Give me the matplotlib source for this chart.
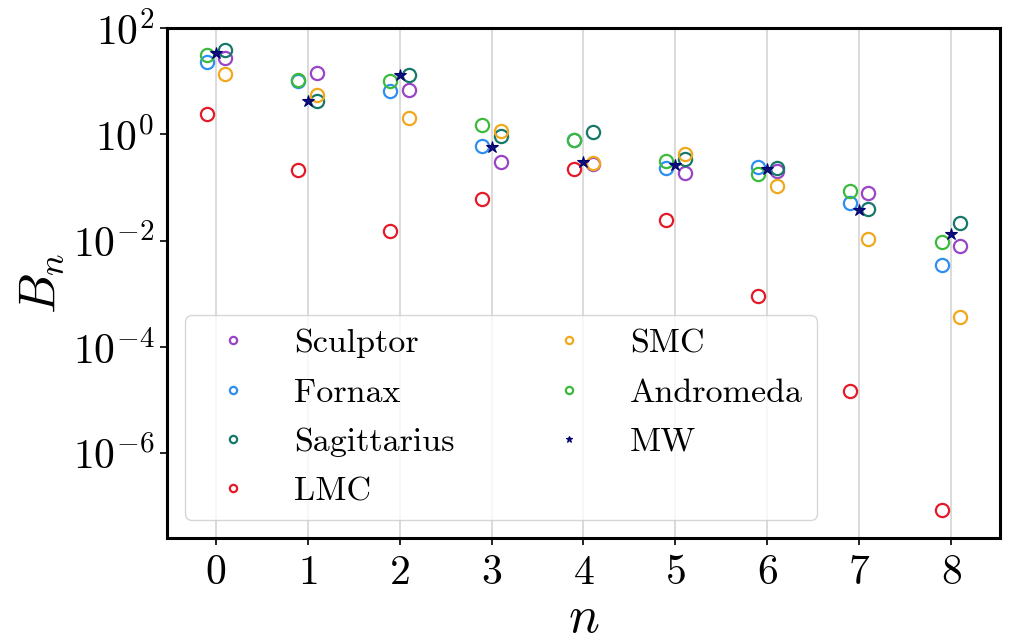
import numpy as np
import matplotlib
matplotlib.use("Agg")
import matplotlib.pyplot as plt

plt.rcParams['font.family'] = 'serif'
plt.rcParams['font.serif'] = ['cmr10']
plt.rcParams['mathtext.fontset'] = 'cm'
plt.rcParams['axes.formatter.use_mathtext'] = True

n = np.arange(9)
sculptor = [27, 14.2, 6.8, 0.30, 0.28, 0.19, 0.20, 0.079, 0.0078]
fornax = [23, 10.0, 6.6, 0.59, 0.78, 0.23, 0.24, 0.051, 0.0035]
sagittarius = [39, 4.2, 13.2, 0.93, 1.12, 0.34, 0.23, 0.040, 0.0214]
lmc = [2.36, 0.21, 0.0148, 0.061, 0.224, 0.0246, 8.9e-4, 1.44e-5, 8.6e-8]
smc = [13.6, 5.4, 2.0, 1.15, 0.29, 0.42, 0.105, 0.0105, 3.7e-4]
andromeda = [31.6, 10.3, 9.9, 1.47, 0.78, 0.32, 0.18, 0.085, 0.0095]
mw = [34, 4.2, 12.8, 0.58, 0.30, 0.26, 0.22, 0.037, 0.0131]

series = [
    ("Sculptor", sculptor, 0.1, '#9a45c8', 'o'),
    ("Fornax", fornax, -0.1, '#2f8ff0', 'o'),
    ("Sagittarius", sagittarius, 0.1, '#17786a', 'o'),
    ("LMC", lmc, -0.1, '#e41a28', 'o'),
    ("SMC", smc, 0.1, '#f0a81c', 'o'),
    ("Andromeda", andromeda, -0.1, '#3cba3c', 'o'),
]

fig = plt.figure(figsize=(10.09, 6.44), dpi=100)
ax = fig.add_axes([0.1655, 0.1646, 0.8255, 0.7919])

for name, vals, off, col, mk in series:
    ax.plot(n + off, vals, linestyle='none', marker=mk, markersize=9.5,
            markerfacecolor='none', markeredgecolor=col, markeredgewidth=1.6,
            label=name)
ax.plot(n, mw, linestyle='none', marker='*', markersize=9,
        markerfacecolor='#10107a', markeredgecolor='#000070', markeredgewidth=0.8,
        label='MW')

ax.set_yscale('log')
ax.set_ylim(10**-7.6, 1e2)
ax.set_xlim(-0.53, 8.53)
ax.set_xticks(n)
ax.set_yticks([1e-6, 1e-4, 1e-2, 1e0, 1e2])
ax.yaxis.set_minor_locator(matplotlib.ticker.NullLocator())
ax.grid(axis='x', color='#d8d8d8', linewidth=1.3)
ax.set_axisbelow(True)
for s in ax.spines.values():
    s.set_linewidth(2.2)
ax.tick_params(axis='both', labelsize=30, width=1.2, length=5)
ax.tick_params(axis='x', pad=7)
ax.tick_params(axis='y', pad=4)

ax.set_xlabel('$n$', fontsize=37, labelpad=3)
ax.set_ylabel('$B_n$', fontsize=37, labelpad=4)

leg = ax.legend(ncol=2, loc='lower left', fontsize=24.5, markerscale=0.55,
                columnspacing=2.35, framealpha=0.8, edgecolor='#cccccc',
                borderaxespad=0.54, labelspacing=0.57)

fig.savefig('out.png', dpi=100)
